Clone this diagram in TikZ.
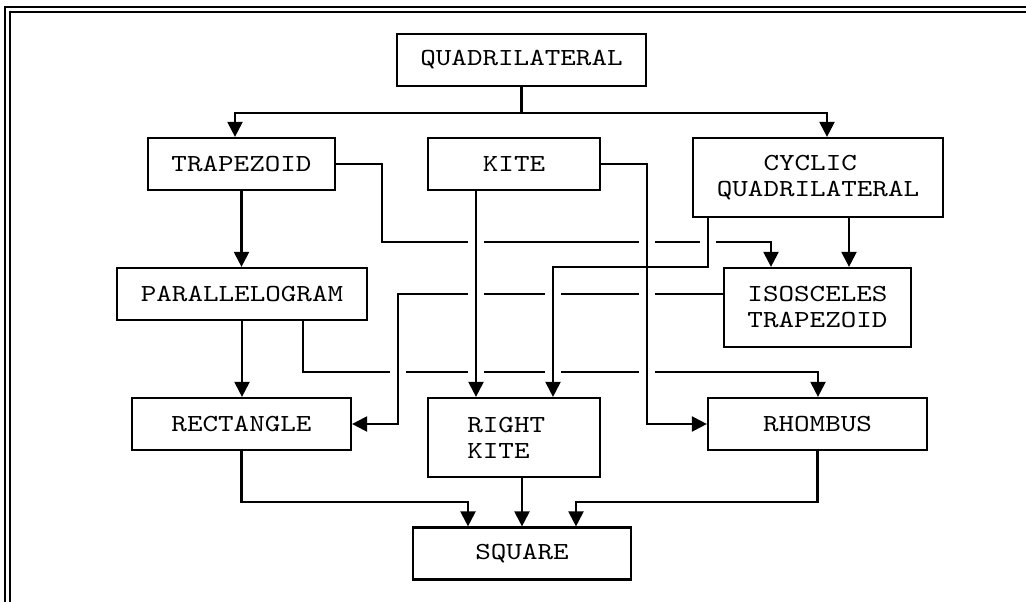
\documentclass[tikz,border=0pt]{standalone}
\usepackage{fontspec}
\usepackage{tikz}
\usetikzlibrary{arrows.meta,calc}
\newfontfamily\boxfont[FakeStretch=1.21]{lmmono10-regular.otf}
\definecolor{chartInk}{RGB}{0,0,0}
\tikzset{
    chartBox/.style={
        rectangle,
        draw=chartInk,
        line width=2.2pt,
        inner sep=0pt,
        minimum height=52pt,
        font=\boxfont\fontsize{24.5pt}{26pt}\selectfont,
        align=center
    },
    tallBox/.style={minimum height=79pt},
    % Connectors
    link/.style={line width=2.2pt, draw=chartInk, -{Triangle[width=15pt,length=15pt]}},
    plainLink/.style={line width=2.2pt, draw=chartInk},
    hop/.style={draw=white, line width=6pt},
    frame/.style={draw=chartInk, line width=1.5pt, double, double distance=3.5pt}
}
\begin{document}
\begin{tikzpicture}[x=1pt, y=-1pt]
    \useasboundingbox (0,0) rectangle (1026,602);
    \draw[frame] (7.5,602) |- (1026,9.5);

    % Boxes
    \node[chartBox, minimum width=249pt] (quad) at (521.5,60) {QUADRILATERAL};
    \node[chartBox, minimum width=187pt] (trap) at (241.5,164) {TRAPEZOID};
    \node[chartBox, minimum width=172pt] (kite) at (514,164) {KITE};
    \node[chartBox, tallBox, minimum width=250pt] (cyclic) at (818,177.5) {CYCLIC\hphantom{X}\\QUADRILATERAL};
    \node[chartBox, minimum width=250pt] (para) at (242,294) {PARALLELOGRAM};
    \node[chartBox, tallBox, minimum width=187pt] (iso) at (817.5,307.5) {ISOSCELES\\TRAPEZOID};
    \node[chartBox, minimum width=219pt] (rect) at (241.5,424) {RECTANGLE};
    \node[chartBox, tallBox, minimum width=172pt, align=left] (rkite) at (514,437.5) {RIGHT\hphantom{X}\\KITE};
    \node[chartBox, minimum width=219pt] (rhomb) at (817.5,424) {RHOMBUS};
    \node[chartBox, minimum width=218pt] (square) at (522,553.5) {SQUARE};

    % Connectors
    \draw[link] (quad.south) -- ++(0,26) -| (235,0 |- trap.north);
    \draw[link] (quad.south) -- ++(0,26) -| (827,0 |- cyclic.north);
    \draw[link] (trap.south) -- (trap.south |- para.north);
    \draw[link] (trap.east) -| (382,242) -| (771,0 |- iso.north);
    \draw[link] (476,0 |- kite.south) -- (476,0 |- rkite.north);
    \draw[link] (kite.east) -| (647,0 |- rhomb.west) -- (rhomb.west);
    \draw[link] (849,0 |- cyclic.south) -- (849,0 |- iso.north);
    \draw[link] (708,0 |- cyclic.south) |- (553,0 |- iso.north) -- (553,0 |- rkite.north);
    \draw[link] (iso.west |- 0,294) -| (398,0 |- rect.east) -- (rect.east);
    \draw[link] (para.south) -- (para.south |- rect.north);
    \draw[link] (303,0 |- para.south) |- (818,372) -- (818,0 |- rhomb.north);
    \draw[link] (rect.south) |- (468,502) -- (468,0 |- square.north);
    \draw[link] (square.north |- rkite.south) -- (square.north);
    \draw[link] (rhomb.south) |- (576,502) -- (576,0 |- square.north);

    % Line hops where horizontals pass under verticals
    \foreach \hx/\hy in {476/242, 647/242, 708/242, 476/294, 553/294, 647/294, 398/372, 476/372, 553/372, 647/372}{
        \draw[hop] (\hx-8,\hy) -- (\hx+8,\hy);
        \draw[plainLink] (\hx,\hy-6) -- (\hx,\hy+6);
    }
\end{tikzpicture}
\end{document}
